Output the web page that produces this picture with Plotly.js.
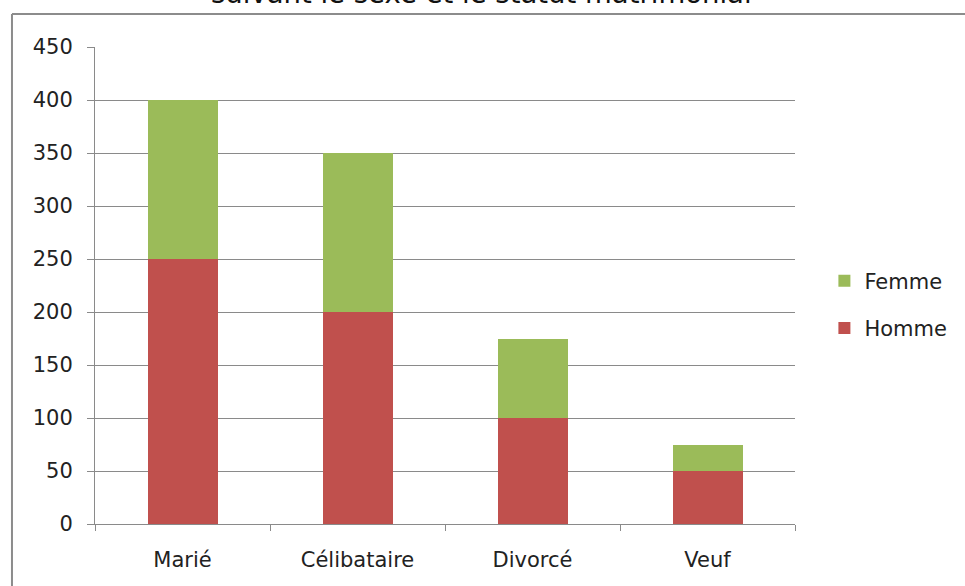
<!DOCTYPE html>
<html>
<head>
<meta charset="utf-8">
<script src="https://cdn.plot.ly/plotly-3.0.1.min.js"></script>
<style>
  html, body { margin: 0; padding: 0; background: #ffffff; }
  #chart { width: 965px; height: 586px; }
</style>
</head>
<body>
<div id="chart"></div>
<script>
// Population by marital status, split by sex (stacked)
const categories = ['Marié', 'Célibataire', 'Divorcé', 'Veuf'];
const hommeValues = [250, 200, 100, 50];
const femmeValues = [150, 150, 75, 25];
const yTickValues = [0, 50, 100, 150, 200, 250, 300, 350, 400, 450];
const chartTitle = 'suivant le sexe et le statut matrimonial';

const RED = '#C0504D';
const GREEN = '#9BBB59';
const GRID = '#8a8a8a';
const FONT = 'DejaVu Sans, sans-serif';

const traces = [
  {
    type: 'bar',
    name: 'Homme',
    x: categories,
    y: hommeValues,
    marker: { color: RED },
    legendgroup: 'h',
    legendrank: 2,
    hoverinfo: 'x+y+name'
  },
  {
    type: 'bar',
    name: 'Femme',
    x: categories,
    y: femmeValues,
    marker: { color: GREEN },
    legendgroup: 'f',
    legendrank: 1,
    hoverinfo: 'x+y+name'
  }
];

const layout = {
  width: 965,
  height: 586,
  margin: { l: 95, r: 170, t: 47, b: 62 },
  paper_bgcolor: '#ffffff',
  plot_bgcolor: '#ffffff',
  barmode: 'stack',
  bargap: 0.6,
  font: { family: FONT, size: 21, color: '#222222' },
  xaxis: {
    type: 'category',
    showgrid: false,
    showline: true,
    linecolor: GRID,
    linewidth: 1,
    ticks: 'outside',
    tickson: 'boundaries',
    ticklen: 6,
    tickcolor: GRID,
    ticklabelstandoff: 17,
    tickfont: { family: FONT, size: 21, color: '#222222' },
    fixedrange: true
  },
  yaxis: {
    range: [0, 450],
    tickvals: yTickValues,
    ticktext: yTickValues.map(String),
    showgrid: true,
    gridcolor: GRID,
    gridwidth: 1,
    showline: true,
    linecolor: GRID,
    linewidth: 1,
    zeroline: false,
    ticks: 'outside',
    ticklen: 7,
    tickcolor: GRID,
    ticklabelstandoff: 10,
    tickfont: { family: FONT, size: 21, color: '#222222' },
    fixedrange: true
  },
  legend: {
    x: 1.042,
    xanchor: 'left',
    y: 0.46,
    yanchor: 'middle',
    traceorder: 'grouped',
    tracegroupgap: 17,
    font: { family: FONT, size: 21, color: '#222222' },
    bgcolor: 'rgba(0,0,0,0)'
  },
  // chart heading, running off the top edge of the frame
  annotations: [
    {
      text: chartTitle,
      xref: 'paper', yref: 'paper',
      x: 0.5524, y: 1.114,
      xanchor: 'center', yanchor: 'middle',
      showarrow: false,
      font: { family: FONT, size: 27.5, color: '#111111' }
    }
  ],
  shapes: [
    // outer chart frame (left and top edges)
    {
      type: 'line', xref: 'paper', yref: 'paper',
      x0: -0.1186, x1: -0.1186, y0: 1.0692, y1: -0.2,
      line: { color: '#8c8c8c', width: 2 }
    },
    {
      type: 'line', xref: 'paper', yref: 'paper',
      x0: -0.1186, x1: 1.3, y0: 1.0692, y1: 1.0692,
      line: { color: '#8c8c8c', width: 2 }
    }
  ]
};

Plotly.newPlot('chart', traces, layout, { displayModeBar: false, staticPlot: true });
</script>
</body>
</html>
